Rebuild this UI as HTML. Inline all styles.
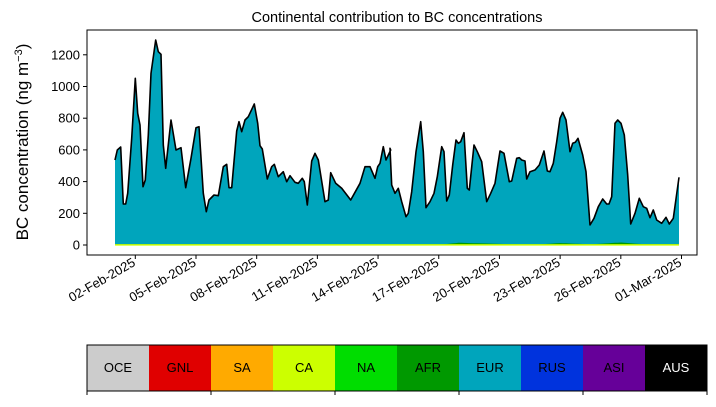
<!DOCTYPE html>
<html><head><meta charset="utf-8"><style>
body{margin:0;background:#fff;width:716px;height:402px;overflow:hidden;font-family:"Liberation Sans","DejaVu Sans",sans-serif}
</style></head><body>
<svg id="chart" width="716" height="402" xmlns="http://www.w3.org/2000/svg" font-family="Liberation Sans, DejaVu Sans, sans-serif">
<text x="397" y="22" text-anchor="middle" font-size="14.5">Continental contribution to BC concentrations</text>
<text transform="translate(28,142) rotate(-90)" text-anchor="middle" font-size="17">BC concentration (ng m<tspan baseline-shift="super" font-size="11">−3</tspan>)</text>
<g id="plot"></g>
<rect x="87" y="30" width="610" height="225" fill="none" stroke="#000" stroke-width="1"/>
<g id="cbar"></g>
</svg>
<script>
const z1x=[90,97,107,115,122,128,140,151,158,165,174,181,190,198,212,220,228,235,242,258,273,288,302,318,333,342,355,364,372,387,400,415,425,432,440,455,462,470,480,490,508,518,525,532,547,560,568,580,595,605,615,630,640,652,658,667,680,690,700,720,730,737,752,770,797,810,825,840,855,870,878,885,895,903,917];
const z1y=[405,375,366,537,537,505,340,160,265,300,485,465,330,145,45,80,88,360,430,285,375,368,488,400,308,305,505,560,525,510,512,425,418,488,488,318,290,320,285,275,237,295,362,372,462,425,418,455,440,470,452,472,475,460,470,540,408,385,405,530,525,443,475,490,525,502,475,425,425,460,425,415,365,405,375];
const z2x=[0,5,15,25,35,48,55,65,78,92,100,108,120,132,142,155,162,170,178,188,198,205,212,222,232,238,252,262,275,290,302,315,330,342,358,365,380,388,395,405,410,420,435,448,462,472,480,490,500,510,518,528,540,548,556,564,578,588,600,612,625,638,650,657,665,675,683,693,703,713,722,735,748,760,770,780,790,800,815,828,838,850,867];
const z2y=[370,480,505,490,530,575,565,500,380,290,380,548,530,505,455,365,380,528,510,420,345,355,350,323,490,495,360,380,410,530,505,475,378,385,470,468,400,398,405,408,462,440,435,420,378,438,440,415,350,280,262,285,380,355,352,340,390,440,600,580,545,522,537,537,515,295,285,295,330,450,597,565,520,545,550,578,555,585,595,577,597,580,457];
const days=[],eur=[];
z1x.forEach((x,i)=>{days.push((x/3-50.3)/20.23);eur.push((660-z1y[i])/0.4755);});
z2x.forEach((x,i)=>{days.push((254.7+x/3)/20.23);eur.push((660-z2y[i])/0.4755);});
const afrDays=[-1,14,15.2,16,19,20,21,22.5,24,25,26.9];
const afrVals=[4,4,4,14,4,4,12,4,16,6,4];
const yTicks=[0,200,400,600,800,1000,1200];
const xTickDays=[0,3,6,9,12,15,18,21,24,27];
const xTickLabels=["02-Feb-2025","05-Feb-2025","08-Feb-2025","11-Feb-2025","14-Feb-2025","17-Feb-2025","20-Feb-2025","23-Feb-2025","26-Feb-2025","01-Mar-2025"];
const regions=["OCE","GNL","SA","CA","NA","AFR","EUR","RUS","ASI","AUS"];
const regionColors=["#cccccc","#e00000","#ffaa00","#ccff00","#00dd00","#009900","#00a5bc","#0033dd","#660099","#000000"];

(function(){
const X=d=>135.3+d*20.23, Y=v=>245-v*0.1585;
const NS="http://www.w3.org/2000/svg";
const plot=document.getElementById('plot');
function mk(t,a,p){const e=document.createElementNS(NS,t);for(const k in a)e.setAttribute(k,a[k]);(p||plot).appendChild(e);return e;}
function afrAt(d){for(let i=1;i<afrDays.length;i++){if(d<=afrDays[i]){const f=(d-afrDays[i-1])/(afrDays[i]-afrDays[i-1]);return afrVals[i-1]+f*(afrVals[i]-afrVals[i-1]);}}return afrVals[afrVals.length-1];}
const topPts=days.map((d,i)=>X(d).toFixed(1)+','+Y(eur[i]).toFixed(1));
const x0=X(days[0]).toFixed(1), x1=X(days[days.length-1]).toFixed(1);
const a=mk('polygon',{points:topPts.join(' ')+' '+x1+','+Y(0)+' '+x0+','+Y(0),fill:'#00a5bc'});


const ap=days.map(d=>X(d).toFixed(1)+','+Y(afrAt(d)).toFixed(1));
const b=mk('polygon',{points:ap.join(' ')+' '+x1+','+Y(0)+' '+x0+','+Y(0),fill:'#009900'});


const c=mk('line',{x1:x0,x2:x1,y1:Y(1),y2:Y(1),stroke:'#ccff00','stroke-width':1.5});


const l=mk('polyline',{points:topPts.join(' '),fill:'none',stroke:'#000','stroke-width':1.6,'stroke-linejoin':'round'});


yTicks.forEach(v=>{
  const t=mk('line',{x1:83,x2:87,y1:Y(v),y2:Y(v),stroke:'#000'});
  
  
  const tx=mk('text',{x:80,y:Y(v)+4.5,'text-anchor':'end','font-size':13});tx.textContent=v;
  
  
});
xTickDays.forEach((d,i)=>{
  const x=X(d);
  const t=mk('line',{x1:x,x2:x,y1:255,y2:259,stroke:'#000'});
  
  
  const tx=mk('text',{transform:`translate(${x+1},${265}) rotate(-30)`,'text-anchor':'end','font-size':13});tx.textContent=xTickLabels[i];
  
  
});
const cb=document.getElementById('cbar');
regions.forEach((r,i)=>{
  const x=87+i*62;
  const rc=mk('rect',{x:x,y:345,width:62,height:46,fill:regionColors[i]},cb);
  
  
  const tx=mk('text',{x:x+31,y:372,'text-anchor':'middle','font-size':13,fill:r==='AUS'?'#fff':'#000'},cb);tx.textContent=r;
  
  
});
const fr=mk('rect',{x:87,y:345,width:620,height:46,fill:'none',stroke:'#000'},cb);


[0,2,4,6,8,10].forEach(k=>{const t=mk('line',{x1:87+k*62,x2:87+k*62,y1:391,y2:395,stroke:'#000'},cb);
  
  });
})();
</script>
</body></html>
